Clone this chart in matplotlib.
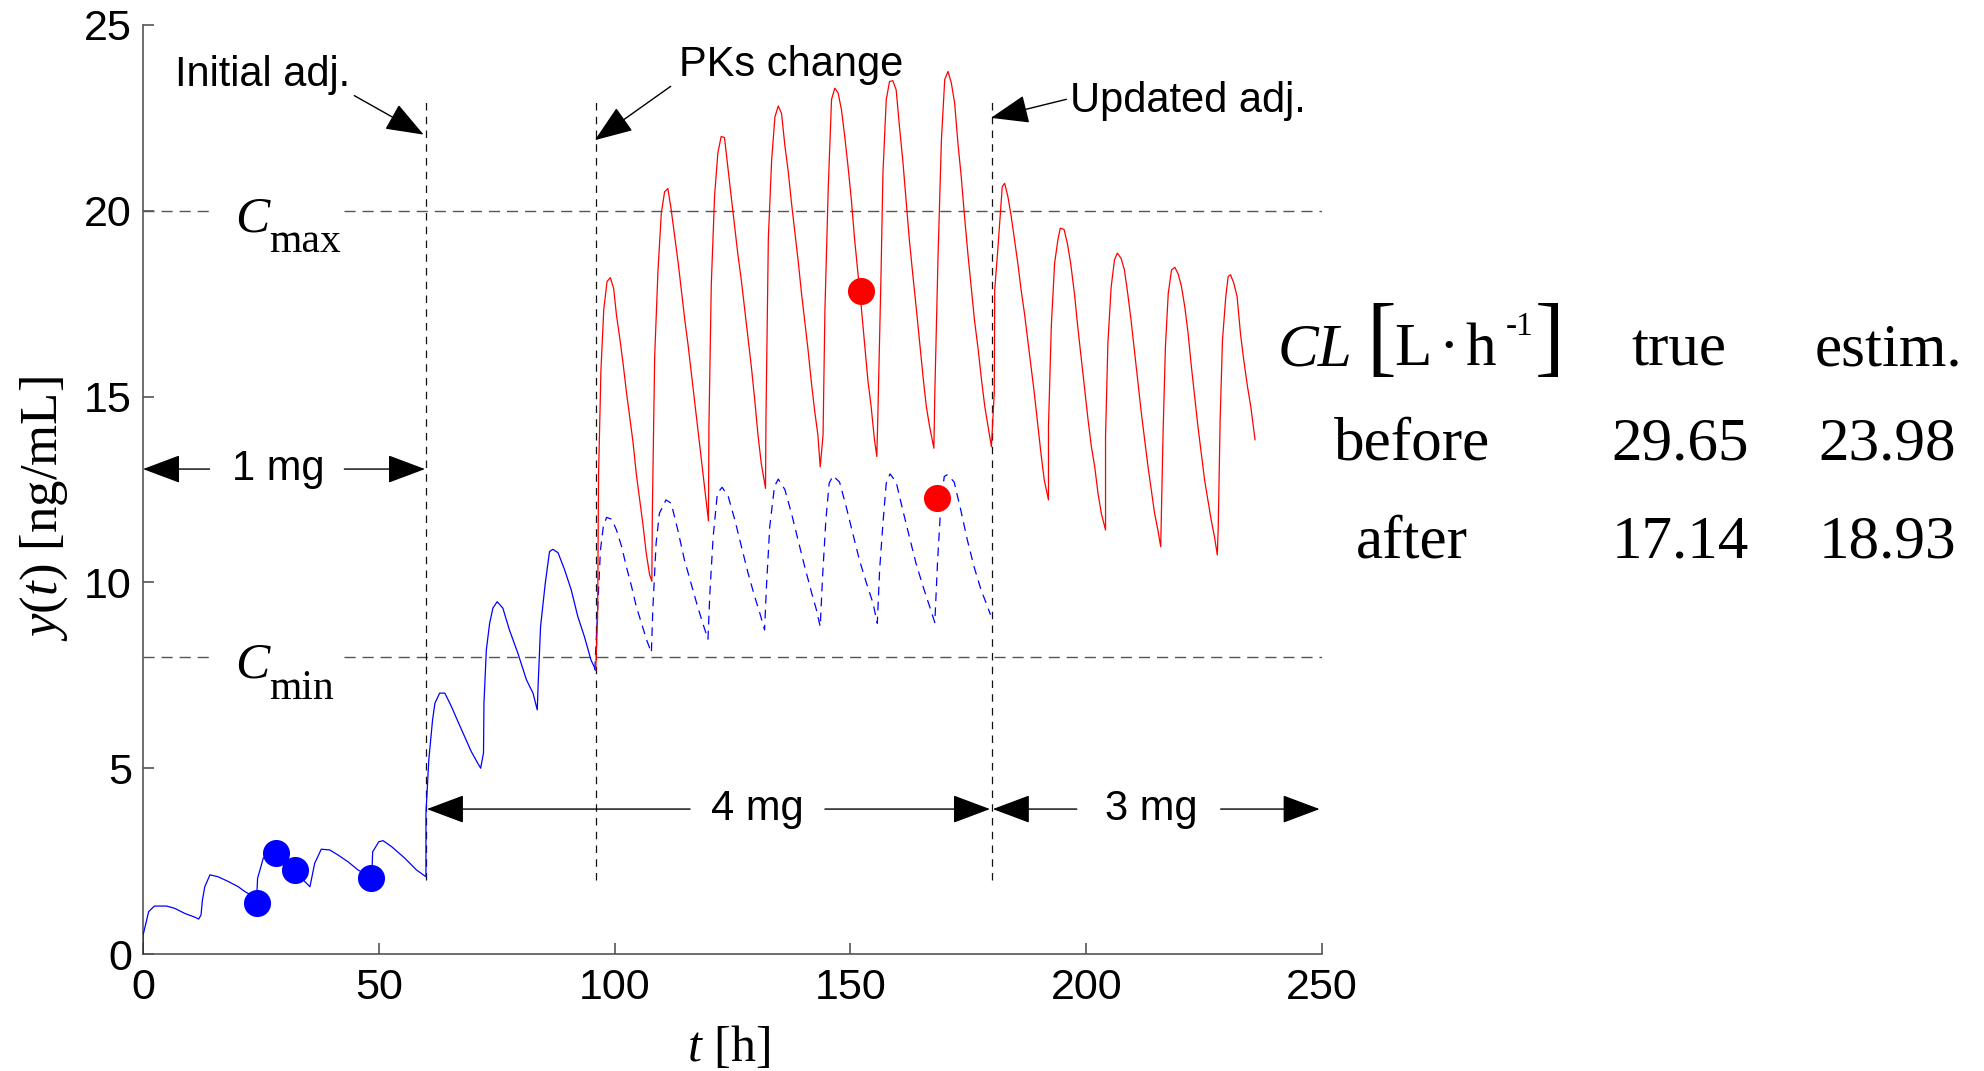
import matplotlib
matplotlib.use("Agg")
import matplotlib.pyplot as plt

plt.rcParams['mathtext.fontset'] = 'custom'
plt.rcParams['mathtext.rm'] = 'Liberation Serif'
plt.rcParams['mathtext.it'] = 'Liberation Serif:italic'
plt.rcParams['font.family'] = ['Liberation Sans', 'DejaVu Sans']

# ---------------- data ----------------
# measured concentration, blue solid (1 mg then 4 mg), t in h
blue_t = [0, 0, 1.2, 2.4, 5.0, 6.7, 8.9, 11.0, 11.8, 12.3, 12.6, 13.1, 14.2, 15.9, 18.1, 20.2, 21.6, 24.1,
          24.3, 25.0, 25.5, 27.2, 30.1, 34.3, 35.4, 36.4, 37.8, 39.6, 41.4, 43.5, 45.6, 48.0, 48.6, 48.7,
          50.0, 50.9, 52.7, 55.5, 58.0, 60.0, 60.0, 60.6, 61.4, 61.9, 62.9, 64.0, 65.4, 66.8, 68.2, 69.6,
          71.0, 71.6, 72.2, 72.3, 72.8, 73.5, 74.2, 75.1, 76.3, 77.7, 79.5, 81.3, 82.7, 83.6, 83.8, 84.3,
          85.3, 86.2, 86.9, 88.0, 89.4, 90.8, 92.2, 93.6, 95.0, 96.0]
blue_y = [0, 0.5, 1.14, 1.29, 1.29, 1.23, 1.09, 0.99, 0.94, 1.05, 1.45, 1.81, 2.13, 2.08, 1.95, 1.81, 1.68, 1.50,
          2.04, 2.35, 2.58, 2.80, 2.62, 1.95, 1.81, 2.44, 2.82, 2.80, 2.66, 2.48, 2.26, 2.10, 2.40, 2.75,
          3.02, 3.05, 2.89, 2.58, 2.26, 2.08, 3.79, 5.22, 6.30, 6.75, 7.02, 7.02, 6.66, 6.25, 5.85, 5.45,
          5.13, 5.00, 5.41, 6.75, 8.18, 8.90, 9.31, 9.48, 9.31, 8.72, 8.09, 7.38, 7.02, 6.57, 7.29, 8.81,
          9.98, 10.83, 10.89, 10.80, 10.34, 9.80, 9.08, 8.54, 7.91, 7.64]

# true concentration after the PK change (red)
red_t = [96.0, 96.4, 96.6, 97.1, 97.7, 98.4, 99.1, 99.8, 100.4, 101.1, 101.8, 102.5, 103.2, 103.9, 104.6, 105.3, 106.0, 106.7, 107.4, 107.9,
         108.0, 108.5, 109.2, 109.9, 110.6, 111.3, 112.0, 112.8, 113.5, 114.2, 114.9, 115.6, 116.3, 117.0, 117.7, 118.4, 119.1, 119.9,
         120.0, 120.5, 121.2, 121.9, 122.6, 123.3, 124.0, 124.7, 125.4, 126.1, 126.9, 127.6, 128.3, 129.0, 129.7, 130.4, 131.1, 132.0,
         132.1, 132.6, 133.3, 134.0, 134.7, 135.4, 136.1, 136.8, 137.5, 138.2, 138.9, 139.6, 140.3, 141.0, 141.7, 142.4, 143.1, 143.6,
         144.2, 144.6, 145.3, 146.0, 146.7, 147.4, 148.1, 148.8, 149.5, 150.2, 150.9, 151.6, 152.3, 153.0, 153.7, 154.4, 155.1, 155.6,
         155.8, 156.5, 156.9, 157.6, 158.3, 159.0, 159.7, 160.4, 161.1, 161.8, 162.5, 163.2, 164.0, 164.7, 165.4, 166.1, 166.8, 167.7,
         167.9, 168.6, 169.3, 170.0, 170.7, 171.4, 172.1, 172.8, 173.5, 174.2, 174.9, 175.6, 176.3, 177.1, 177.8, 178.5, 179.2, 179.9,
         180.5, 180.6, 181.2, 181.7, 182.2, 182.7, 183.4, 184.1, 184.8, 185.5, 186.2, 186.9, 187.6, 188.3, 189.0, 189.7, 190.4, 191.1, 192.0,
         192.0, 192.6, 193.3, 194.0, 194.5, 195.3, 196.0, 196.7, 197.5, 198.2, 198.9, 199.6, 200.4, 201.1, 201.8, 202.5, 203.2, 204.1,
         204.1, 204.6, 205.3, 206.0, 206.6, 207.4, 208.1, 208.8, 209.5, 210.2, 210.9, 211.7, 212.4, 213.1, 213.8, 214.5, 215.2, 215.8,
         216.3, 216.8, 217.4, 218.1, 218.8, 219.5, 220.2, 220.9, 221.6, 222.3, 223.0, 223.7, 224.4, 225.1, 225.8, 226.5, 227.2, 227.8,
         228.0, 228.4, 228.9, 229.6, 230.1, 230.6, 231.3, 232.0, 232.7, 233.4, 234.2, 234.9, 235.8]
red_y = [7.64, 9.07, 12.91, 15.70, 17.34, 18.10, 18.20, 17.91, 17.19, 16.57, 15.89, 15.13, 14.45, 13.78, 12.92, 12.24, 11.57, 10.80, 10.22, 10.03,
         11.86, 16.09, 18.39, 19.93, 20.51, 20.60, 20.03, 19.26, 18.58, 17.82, 17.05, 16.37, 15.60, 14.83, 14.07, 13.30, 12.53, 11.66,
         14.16, 18.01, 20.41, 21.56, 22.00, 21.97, 21.18, 20.41, 19.64, 18.87, 18.10, 17.33, 16.57, 15.80, 14.93, 13.97, 13.20, 12.53,
         14.45, 19.26, 21.37, 22.53, 22.82, 22.62, 21.76, 21.08, 20.22, 19.45, 18.68, 17.82, 17.05, 16.28, 15.41, 14.64, 13.97, 13.11,
         13.97, 17.33, 20.60, 23.00, 23.30, 23.17, 22.72, 22.00, 21.19, 20.30, 19.22, 18.32, 17.42, 16.44, 15.45, 14.73, 13.84, 13.39,
         14.37, 18.32, 21.01, 22.99, 23.48, 23.50, 23.26, 22.27, 21.37, 20.30, 19.22, 18.32, 17.34, 16.44, 15.54, 14.73, 14.19, 13.61,
         15.09, 18.86, 21.91, 23.53, 23.75, 23.44, 22.90, 21.82, 20.92, 19.85, 18.86, 17.96, 17.07, 16.26, 15.45, 14.73, 14.19, 13.65,
         15.09, 17.87, 18.86, 19.76, 20.65, 20.74, 20.38, 19.85, 19.22, 18.59, 17.87, 17.25, 16.53, 15.81, 15.09, 14.29, 13.48, 12.76, 12.22,
         14.19, 16.89, 18.59, 19.22, 19.53, 19.50, 19.13, 18.59, 17.78, 16.89, 16.08, 15.27, 14.37, 13.65, 13.12, 12.40, 11.86, 11.41,
         13.92, 16.44, 17.96, 18.68, 18.86, 18.72, 18.41, 17.78, 17.07, 16.26, 15.45, 14.55, 13.84, 13.12, 12.49, 11.86, 11.41, 10.96,
         14.02, 16.35, 17.78, 18.41, 18.48, 18.30, 17.96, 17.42, 16.71, 15.81, 15.00, 14.19, 13.48, 12.76, 12.22, 11.68, 11.23, 10.74,
         11.50, 14.37, 16.53, 17.69, 18.23, 18.28, 18.05, 17.69, 16.71, 15.99, 15.27, 14.73, 13.84]

# predicted concentration with the old PK parameters (blue dashed)
pred_t = [95.8, 97.0, 97.6, 98.3, 99.4, 100.4, 101.5, 102.5, 103.6, 104.6, 105.7, 106.8, 107.8,
          108.1, 108.8, 109.5, 110.9, 112.0, 113.4, 114.8, 116.2, 117.6, 118.7, 119.8,
          120.2, 120.9, 121.8, 122.8, 124.1, 125.5, 126.9, 128.3, 129.7, 130.8, 131.8,
          132.2, 132.9, 133.9, 134.7, 136.1, 137.5, 138.9, 140.3, 141.8, 142.8, 143.6,
          144.1, 144.8, 145.5, 146.3, 147.7, 149.1, 150.5, 151.9, 153.4, 154.8, 155.7,
          156.2, 156.9, 157.6, 158.4, 159.7, 161.1, 162.5, 163.9, 165.4, 166.8, 167.9,
          168.5, 169.2, 169.9, 170.6, 172.0, 173.4, 174.8, 176.2, 177.7, 178.8, 179.7]
pred_y = [7.64, 10.87, 11.50, 11.75, 11.70, 11.41, 10.96, 10.42, 9.89, 9.35, 8.90, 8.45, 8.11,
          9.26, 11.05, 11.86, 12.22, 12.13, 11.41, 10.61, 9.98, 9.35, 8.90, 8.47,
          9.71, 11.23, 12.40, 12.56, 12.31, 11.68, 10.96, 10.25, 9.62, 9.17, 8.72,
          9.89, 11.50, 12.58, 12.78, 12.50, 11.86, 11.14, 10.43, 9.71, 9.26, 8.81,
          10.16, 11.68, 12.67, 12.87, 12.70, 12.04, 11.32, 10.61, 9.98, 9.44, 8.90,
          10.34, 11.59, 12.67, 12.92, 12.70, 11.95, 11.23, 10.52, 9.89, 9.35, 8.92,
          10.61, 12.13, 12.85, 12.90, 12.70, 11.95, 11.14, 10.43, 9.80, 9.44, 9.13]

# samples
blue_samples_t = [24.2, 28.2, 32.3, 48.3]
blue_samples_y = [1.38, 2.71, 2.26, 2.04]
red_samples_t = [152.2, 168.3]
red_samples_y = [17.85, 12.28]

# limits and events
c_max = 20
c_min = 8
event_t = [60, 96, 180]
dose_labels = ['1 mg', '4 mg', '3 mg']

x_ticks = [0, 50, 100, 150, 200, 250]
y_ticks = [0, 5, 10, 15, 20, 25]

table_header = ['true', 'estim.']
table_rows = ['before', 'after']
cl_true = ['29.65', '17.14']
cl_estim = ['23.98', '18.93']

# ---------------- figure ----------------
W, H = 1984, 1071
fig = plt.figure(figsize=(W / 100, H / 100), dpi=100)
ax = fig.add_axes([143 / W, 1 - 954 / H, (1322 - 143) / W, (954 - 25) / H])
ax.set_xlim(0, 250)
ax.set_ylim(0, 25)

LW = 0.9
ax.plot(blue_t, blue_y, color='#0000ff', lw=LW, zorder=3)
ax.plot(pred_t, pred_y, color='#0000ff', lw=LW, dashes=(7, 5), zorder=3)
ax.plot(red_t, red_y, color='#ff0000', lw=LW, zorder=3)
ax.plot(blue_samples_t, blue_samples_y, 'o', color='#0000ff', ms=19.5, mec='none', zorder=4)
ax.plot(red_samples_t, red_samples_y, 'o', color='#ff0000', ms=19.5, mec='none', zorder=4)

# limit lines with gap for the label
gap = (14.5, 42.7)
for c in (c_max, c_min):
    ax.plot([0, gap[0]], [c, c], color='#555555', lw=1.0, dashes=(8, 5), zorder=2)
    ax.plot([gap[1], 250], [c, c], color='#555555', lw=1.0, dashes=(8, 5), zorder=2)
ax.vlines(event_t, 2.0, 23.0, colors='#111111', lw=0.9, linestyles=(0, (6, 5)), zorder=2)

serif = 'Liberation Serif'
ax.text(19.6, 19.45, 'C', family=serif, style='italic', fontsize=37, ha='left', va='baseline')
ax.text(26.8, 18.9, 'max', family=serif, fontsize=30, ha='left', va='baseline')
ax.text(19.6, 7.45, 'C', family=serif, style='italic', fontsize=37, ha='left', va='baseline')
ax.text(26.8, 6.85, 'min', family=serif, fontsize=30, ha='left', va='baseline')


def arrow(tail, tip):
    ax.annotate('', xy=tip, xytext=tail, annotation_clip=False,
                arrowprops=dict(arrowstyle='-|>,head_length=1.6,head_width=0.6', mutation_scale=15,
                                color='k', lw=1.0, shrinkA=0, shrinkB=0), zorder=5)


FS = 30
# dose annotations
y1 = 13.05
arrow((14.1, y1), (0, y1))
ax.text(28.6, y1, dose_labels[0], fontsize=FS, ha='center', va='center')
arrow((42.7, y1), (59.8, y1))

y4 = 3.9
arrow((116, y4), (60.2, y4))
ax.text(130.2, y4, dose_labels[1], fontsize=FS, ha='center', va='center')
arrow((144.6, y4), (179.6, y4))
arrow((198, y4), (180.2, y4))
ax.text(213.8, y4, dose_labels[2], fontsize=FS, ha='center', va='center')
arrow((228.5, y4), (249.5, y4))

# event annotations
ax.text(44.0, 23.35, 'Initial adj.', fontsize=FS, ha='right', va='baseline')
arrow((44.8, 23.1), (59.5, 22.05))
ax.text(137.5, 23.62, 'PKs change', fontsize=FS, ha='center', va='baseline')
arrow((111.9, 23.35), (95.8, 21.9))
ax.text(196.5, 22.95, 'Updated adj.', fontsize=FS, ha='left', va='center')
arrow((195.8, 23.0), (179.8, 22.5))

# axes styling
for s in ('top', 'right'):
    ax.spines[s].set_visible(False)
for s in ('left', 'bottom'):
    ax.spines[s].set_color('#555555')
    ax.spines[s].set_linewidth(1.2)
ax.set_xticks(x_ticks)
ax.set_yticks(y_ticks)
ax.tick_params(direction='in', length=8, width=1.2, color='#555555', labelsize=31, pad=8)
ax.tick_params(axis='x', pad=10)

fig.text(44 / W, 1 - 509 / H, r'$y(t)$ [ng/mL]', family=serif, fontsize=38, rotation=90,
         ha='center', va='center')
fig.text(728 / W, 1 - 1048 / H, r'$t$ [h]', family=serif, fontsize=36, ha='center', va='center')

# table on the right
TF = 44
yb1 = 1 - 365 / H
fig.text(1278 / W, yb1, 'CL', family=serif, style='italic', fontsize=TF, ha='left', va='baseline')
fig.text(1366 / W, yb1, '[', family=serif, fontsize=64, ha='left', va='baseline')
fig.text(1394 / W, yb1, 'L', family=serif, fontsize=TF, ha='left', va='baseline')
fig.text(1449 / W, yb1, '·', family=serif, fontsize=TF, ha='center', va='baseline')
fig.text(1465 / W, yb1, 'h', family=serif, fontsize=TF, ha='left', va='baseline')
fig.text(1506 / W, 1 - 335 / H, '-1', family=serif, fontsize=24, ha='left', va='baseline')
fig.text(1535 / W, yb1, ']', family=serif, fontsize=64, ha='left', va='baseline')
fig.text(1679 / W, yb1, table_header[0], family=serif, fontsize=TF, ha='center', va='baseline')
fig.text(1888 / W, yb1, table_header[1], family=serif, fontsize=TF, ha='center', va='baseline')
for i, yb in enumerate([460, 557]):
    fig.text(1412 / W, 1 - yb / H, table_rows[i], family=serif, fontsize=TF, ha='center', va='baseline')
    fig.text(1680 / W, 1 - yb / H, cl_true[i], family=serif, fontsize=TF, ha='center', va='baseline')
    fig.text(1887 / W, 1 - yb / H, cl_estim[i], family=serif, fontsize=TF, ha='center', va='baseline')

fig.savefig('out.png', dpi=100)
